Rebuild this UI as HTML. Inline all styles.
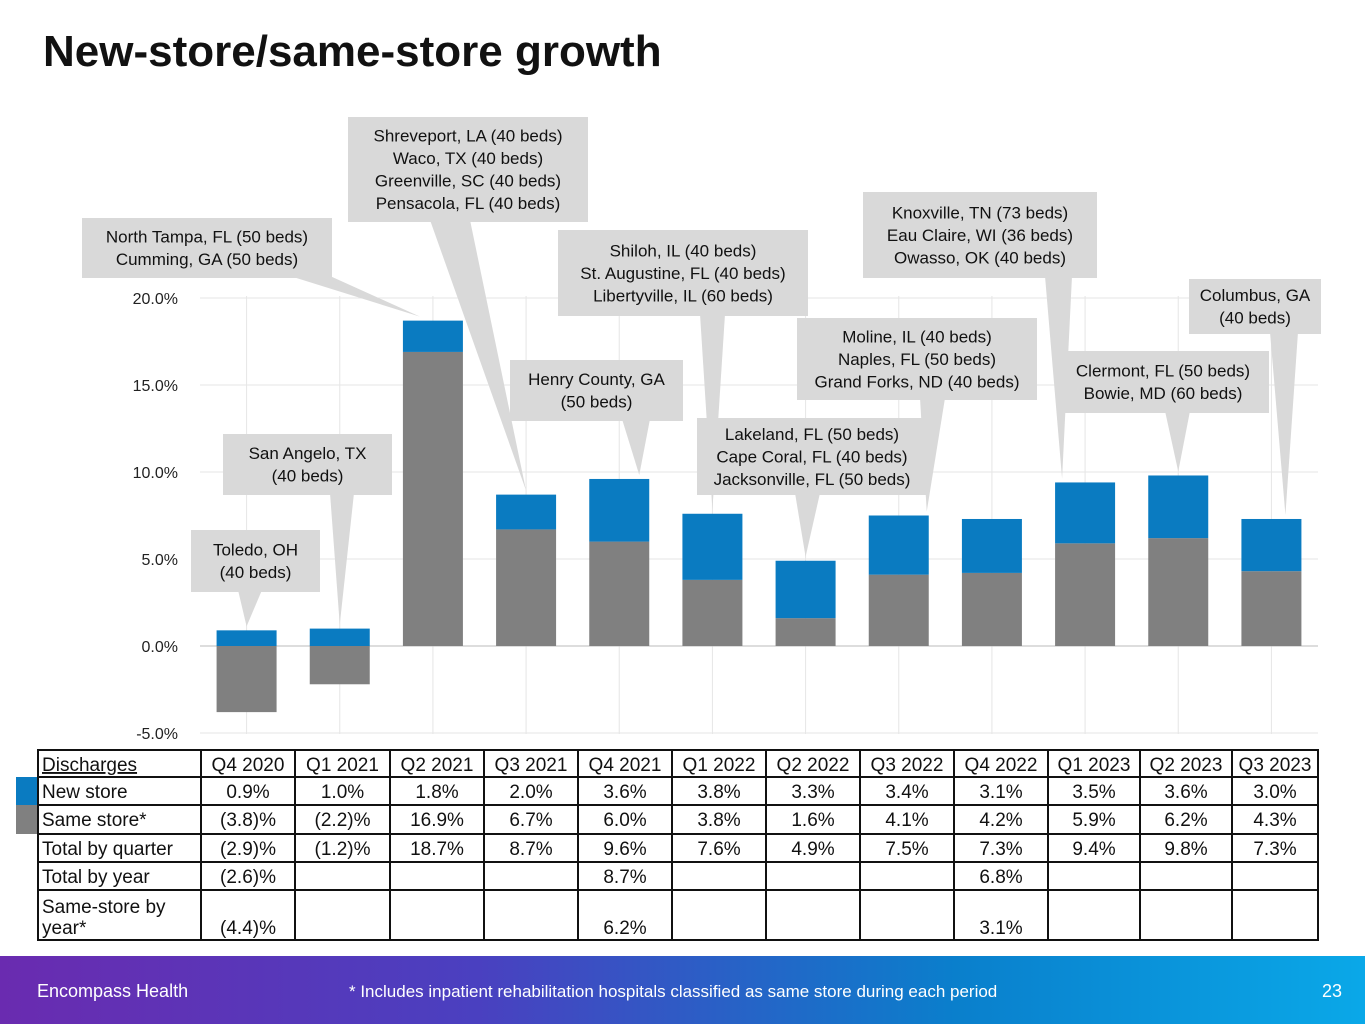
<!DOCTYPE html>
<html><head><meta charset="utf-8"><style>
body{margin:0;width:1365px;height:1024px;background:#fff;font-family:"Liberation Sans",sans-serif;overflow:hidden;position:relative}
#title{position:absolute;left:43px;top:27px;font-size:44px;font-weight:bold;color:#111}
svg{position:absolute;left:0;top:0}
#footer{position:absolute;left:0;top:956px;width:1365px;height:68px;background:linear-gradient(90deg,#6a2bb0 0%,#4a40c0 35%,#0a7fcc 70%,#0aa8e8 100%);color:#fff;font-size:18px}
</style></head><body>
<div id="title">New-store/same-store growth</div>
<svg id="chart" width="1365" height="956"></svg>
<div id="footer">
<span style="position:absolute;left:37px;top:25px">Encompass Health</span>
<span style="position:absolute;left:349px;top:26px;font-size:17px">* Includes inpatient rehabilitation hospitals classified as same store during each period</span>
<span style="position:absolute;left:1322px;top:25px">23</span>
</div>
<script>
const categories=["Q4 2020","Q1 2021","Q2 2021","Q3 2021","Q4 2021","Q1 2022","Q2 2022","Q3 2022","Q4 2022","Q1 2023","Q2 2023","Q3 2023"];
const newStore=[0.9,1.0,1.8,2.0,3.6,3.8,3.3,3.4,3.1,3.5,3.6,3.0];
const sameStore=[-3.8,-2.2,16.9,6.7,6.0,3.8,1.6,4.1,4.2,5.9,6.2,4.3];
const totalQuarter=["(2.9)%","(1.2)%","18.7%","8.7%","9.6%","7.6%","4.9%","7.5%","7.3%","9.4%","9.8%","7.3%"];
const totalYear=["(2.6)%","","","","8.7%","","","","6.8%","","",""];
const sameYear=["(4.4)%","","","","6.2%","","","","3.1%","","",""];
const yTicks=[-5,0,5,10,15,20];
const callouts=[
 {lines:["Toledo, OH","(40 beds)"],i:0,b:[191,530,129,62],base:[238,262]},
 {lines:["San Angelo, TX","(40 beds)"],i:1,b:[223,434,169,61],base:[330,354]},
 {lines:["North Tampa, FL (50 beds)","Cumming, GA (50 beds)"],i:2,b:[82,218,250,60],base:[290,330],dx:-13},
 {lines:["Shreveport, LA (40 beds)","Waco, TX (40 beds)","Greenville, SC (40 beds)","Pensacola, FL (40 beds)"],i:3,b:[348,117,240,105],base:[430,470]},
 {lines:["Henry County, GA","(50 beds)"],i:4,b:[510,360,173,61],base:[622,650],dx:20},
 {lines:["Shiloh, IL (40 beds)","St. Augustine, FL (40 beds)","Libertyville, IL (60 beds)"],i:5,b:[558,230,250,86],base:[700,725]},
 {lines:["Lakeland, FL (50 beds)","Cape Coral, FL (40 beds)","Jacksonville, FL (50 beds)"],i:6,b:[697,418,230,77],base:[795,820]},
 {lines:["Moline, IL (40 beds)","Naples, FL (50 beds)","Grand Forks, ND (40 beds)"],i:7,b:[797,318,240,82],base:[920,945],dx:28},
 {lines:["Knoxville, TN (73 beds)","Eau Claire, WI (36 beds)","Owasso, OK (40 beds)"],i:9,b:[863,192,234,86],base:[1045,1072],dx:-23},
 {lines:["Clermont, FL (50 beds)","Bowie, MD (60 beds)"],i:10,b:[1057,351,212,62],base:[1165,1190]},
 {lines:["Columbus, GA","(40 beds)"],i:11,b:[1189,279,132,55],base:[1270,1298],dx:14}
];
const NS="http://www.w3.org/2000/svg";
const svg=document.getElementById('chart');
function el(t,a,p){const e=document.createElementNS(NS,t);for(const k in a)e.setAttribute(k,a[k]);(p||svg).appendChild(e);return e;}
const x0=200,x1=1318,bw=(x1-x0)/12;
function y(v){return 646-v*17.4;}
function xc(i){return x0+bw*(i+0.5);}
categories.forEach((c,i)=>{const g=el('line',{x1:xc(i),x2:xc(i),y1:296,y2:734,stroke:'#e6e6e6'});});
yTicks.forEach(t=>{const g=el('line',{x1:x0,x2:x1,y1:y(t),y2:y(t),stroke:t==0?'#bbb':'#e6e6e6'});
 const tx=el('text',{x:178,y:y(t)+6,'text-anchor':'end','font-size':16,fill:'#222'});tx.textContent=t.toFixed(1)+'%';});
categories.forEach((c,i)=>{const w=60,x=xc(i)-w/2;const s=sameStore[i],n=newStore[i];
 const r1=el('rect',{x:x,y:Math.min(y(0),y(s)),width:w,height:Math.abs(y(s)-y(0)),fill:'#808080'});
 const base=Math.max(s,0);
 const r2=el('rect',{x:x,y:y(base+n),width:w,height:y(base)-y(base+n),fill:'#0a7bc1'});});
callouts.forEach(c=>{const [bx,by,w,h]=c.b;const i=c.i;const top=y(Math.max(sameStore[i],0)+newStore[i]);const tx=xc(i)+(c.dx||0);
 const g=el('g',{});
 el('polygon',{points:`${c.base[0]},${by+h-2} ${c.base[1]},${by+h-2} ${tx},${top-4}`,fill:'#d9d9d9'},g);
 el('rect',{x:bx,y:by,width:w,height:h,fill:'#d9d9d9'},g);
 const n=c.lines.length,lh=22.5;const sy=by+h/2-(n*lh)/2+17;
 c.lines.forEach((l,k)=>{const t=el('text',{x:bx+w/2,y:sy+k*lh,'text-anchor':'middle','font-size':17,fill:'#111'},g);t.textContent=l;});});
const cols=[38,201,295,390,484,578,672,766,860,954,1048,1140,1232,1318];
const rows=[750,777,805,834,862,890,940];
const tg=el('g',{});
el('rect',{x:16,y:777,width:22,height:28,fill:'#0a7bc1'},tg);
el('rect',{x:16,y:805,width:22,height:29,fill:'#808080'},tg);
rows.forEach(r=>el('line',{x1:37,x2:1319,y1:r,y2:r,stroke:'#111','stroke-width':2},tg));
cols.forEach(c=>el('line',{x1:c,x2:c,y1:749,y2:941,stroke:'#111','stroke-width':2},tg));
const labels=["Discharges","New store","Same store*","Total by quarter","Total by year"];
function fmt(v){return v<0?'('+Math.abs(v).toFixed(1)+')%':v.toFixed(1)+'%';}
const rowData=[categories,newStore.map(fmt),sameStore.map(fmt),totalQuarter,totalYear];
labels.forEach((l,r)=>{const t=el('text',{x:42,y:rows[r]+21,'font-size':19,fill:'#111','text-decoration':r==0?'underline':'none'},tg);t.textContent=l;
 rowData[r].forEach((v,i)=>{const t2=el('text',{x:(cols[i+1]+cols[i+2])/2,y:rows[r]+21,'text-anchor':'middle','font-size':19,fill:'#111'},tg);t2.textContent=v;});});
let t=el('text',{x:42,y:913,'font-size':19,fill:'#111'},tg);t.textContent='Same-store by';
t=el('text',{x:42,y:934,'font-size':19,fill:'#111'},tg);t.textContent='year*';
sameYear.forEach((v,i)=>{const t2=el('text',{x:(cols[i+1]+cols[i+2])/2,y:934,'text-anchor':'middle','font-size':19,fill:'#111'},tg);t2.textContent=v;});
</script>
</body></html>
